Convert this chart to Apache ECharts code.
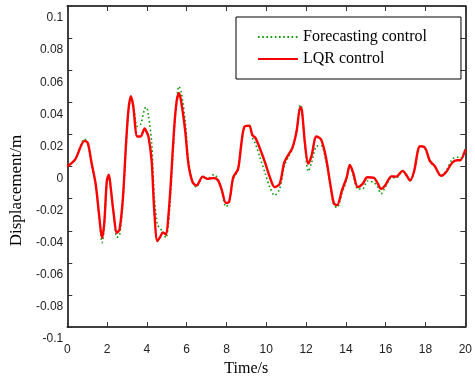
<!DOCTYPE html>
<html>
<head>
<meta charset="utf-8">
<script src="https://cdn.jsdelivr.net/npm/echarts@6/dist/echarts.min.js"></script>
<style>
  html, body { margin: 0; padding: 0; background: #fff; }
  #chart { width: 475px; height: 382px; }
</style>
</head>
<body>
<div id="chart"></div>
<script>
// time (s) shared by both curves
const time = [
  0, 0.4, 0.87, 1.03, 1.22, 1.43, 1.59, 1.75, 1.86, 1.99, 2.09, 2.18, 2.31, 2.5, 2.63, 2.8,
  2.95, 3.08, 3.2, 3.31, 3.52, 3.68, 3.89, 3.97, 4.08, 4.24, 4.37, 4.53, 4.69, 4.8, 4.96, 5.08,
  5.2, 5.37, 5.49, 5.61, 5.73, 5.93, 6.09, 6.3, 6.49, 6.81, 7.05, 7.37, 7.58, 7.77, 7.97, 8.13,
  8.34, 8.58, 8.74, 8.9, 9.14, 9.3, 9.46, 9.7, 9.94, 10.18, 10.42, 10.67, 10.9, 11.07, 11.31, 11.52,
  11.71, 11.79, 11.95, 12.11, 12.27, 12.52, 12.76, 13.0, 13.24, 13.4, 13.56, 13.8, 14.04, 14.2, 14.36, 14.6,
  14.84, 15.08, 15.41, 15.57, 15.77, 15.97, 16.29, 16.53, 16.85, 17.06, 17.22, 17.41, 17.73, 17.98, 18.22, 18.46,
  18.78, 19.02, 19.34, 19.58, 19.74, 20
]

// LQR control displacement (m)
const lqr = [
  0, 0.0045, 0.016, 0.0147, 0.0024, -0.011, -0.029, -0.0444, -0.035, -0.0087, -0.005, -0.0128, -0.027, -0.0413, -0.039, -0.019,
  0.0136, 0.036, 0.0438, 0.038, 0.0187, 0.0187, 0.0238, 0.022, 0.0187, 0.0035, -0.027, -0.0464, -0.0434, -0.041, -0.0423, -0.031,
  -0.0108, 0.0238, 0.04, 0.0458, 0.04, 0.0218, 0.0014, -0.0098, -0.0118, -0.0063, -0.0077, -0.0071, -0.0087, -0.0149, -0.0226, -0.022,
  -0.0067, -0.0016, 0.0136, 0.0248, 0.0255, 0.0197, 0.0177, 0.0106, 0.0024, -0.0067, -0.0128, -0.0108, 0.0024, 0.0065, 0.0116, 0.0218,
  0.037, 0.035, 0.0136, 0.0018, 0.0065, 0.0187, 0.0167, 0.0055, -0.0128, -0.023, -0.024, -0.0149, -0.0067, 0.001, -0.0037, -0.0128,
  -0.0108, -0.0067, -0.0071, -0.0098, -0.0139, -0.0118, -0.0061, -0.0063, -0.0027, -0.0057, -0.0087, -0.0037, 0.0126, 0.0116, 0.0035, 0.0004,
  -0.0057, -0.0037, 0.0024, 0.0039, 0.0039, 0.0106
]

// Forecasting control displacement (m)
const forecast = [
  0, 0.0045, 0.017, 0.0145, 0.002, -0.011, -0.03, -0.0474, -0.038, -0.01, -0.007, -0.013, -0.028, -0.044, -0.043, -0.022,
  0.011, 0.034, 0.042, 0.039, 0.025, 0.026, 0.036, 0.037, 0.032, 0.015, -0.018, -0.036, -0.039, -0.04, -0.0444, -0.036,
  -0.015, 0.02, 0.041, 0.05, 0.046, 0.028, 0.004, -0.01, -0.0128, -0.0065, -0.0075, -0.005, -0.008, -0.016, -0.025, -0.023,
  -0.008, -0.002, 0.012, 0.024, 0.026, 0.018, 0.014, 0.005, -0.004, -0.013, -0.018, -0.014, 0, 0.005, 0.011, 0.022,
  0.0385, 0.036, 0.012, -0.003, 0.002, 0.0126, 0.013, 0.003, -0.014, -0.024, -0.0255, -0.017, -0.008, 0.0015, -0.005, -0.014,
  -0.014, -0.009, -0.01, -0.012, -0.017, -0.013, -0.007, -0.007, -0.003, -0.006, -0.009, -0.004, 0.013, 0.011, 0.003, 0,
  -0.006, -0.003, 0.0045, 0.0059, 0.005, 0.011
]

const chart = echarts.init(document.getElementById('chart'))

const frameLine = { show: true, onZero: false, lineStyle: { color: '#000', width: 1.5 } }
const tickIn = { show: true, inside: true, length: 5, lineStyle: { color: '#333', width: 1 } }

const option = {
  animation: false,
  backgroundColor: '#fff',
  grid: { left: 52, right: 8, top: 6, bottom: 49 },
  legend: {
    left: 236,
    top: 17,
    orient: 'vertical',
    itemWidth: 40,
    itemHeight: 14,
    itemGap: 6,
    padding: [12, 34, 12, 21],
    borderColor: '#000',
    borderWidth: 1,
    itemStyle: { opacity: 0 },
    textStyle: { fontFamily: 'Liberation Serif', fontSize: 16, color: '#000' },
    data: ['Forecasting control', 'LQR control']
  },
  xAxis: [
    {
      type: 'value',
      min: 0, max: 20, interval: 2,
      name: 'Time/s',
      nameLocation: 'middle',
      nameGap: 32,
      nameTextStyle: { fontFamily: 'Liberation Serif', fontSize: 16, color: '#000', padding: [0, 40, 0, 0] },
      axisLine: frameLine,
      axisTick: tickIn,
      splitLine: { show: false },
      axisLabel: { margin: 17, fontFamily: 'Liberation Sans', fontSize: 12, color: '#222' }
    },
    {
      type: 'value', position: 'top',
      min: 0, max: 20, interval: 2,
      axisLine: frameLine, axisTick: tickIn,
      axisLabel: { show: false }, splitLine: { show: false }
    }
  ],
  yAxis: [
    {
      type: 'value',
      min: -0.1, max: 0.1, interval: 0.02,
      name: 'Displacement/m',
      nameLocation: 'middle',
      nameGap: 25,
      nameTextStyle: { fontFamily: 'Liberation Serif', fontSize: 17, color: '#000', padding: [0, 48, 0, 0] },
      axisLine: frameLine,
      axisTick: tickIn,
      splitLine: { show: false },
      axisLabel: {
        margin: 4,
        verticalAlign: 'top',
        padding: [6, 0, 0, 0],
        fontFamily: 'Liberation Sans', fontSize: 12, color: '#222',
        formatter: v => String(parseFloat(v.toFixed(2)))
      }
    },
    {
      type: 'value', position: 'right',
      min: -0.1, max: 0.1, interval: 0.02,
      axisLine: frameLine, axisTick: tickIn,
      axisLabel: { show: false }, splitLine: { show: false }
    }
  ],
  series: [
    {
      name: 'Forecasting control',
      type: 'line',
      data: time.map((t, i) => [t, forecast[i]]),
      smooth: 0.3,
      showSymbol: false,
      symbol: 'none',
      z: 2,
      itemStyle: { color: '#109a10' },
      lineStyle: { color: '#109a10', width: 1.6, type: [1.6, 2.6] }
    },
    {
      name: 'LQR control',
      type: 'line',
      data: time.map((t, i) => [t, lqr[i]]),
      smooth: 0.3,
      showSymbol: false,
      symbol: 'none',
      z: 3,
      itemStyle: { color: '#ff0000' },
      lineStyle: { color: '#ff0000', width: 2.4 }
    }
  ]
}

chart.setOption(option)
</script>
</body>
</html>
